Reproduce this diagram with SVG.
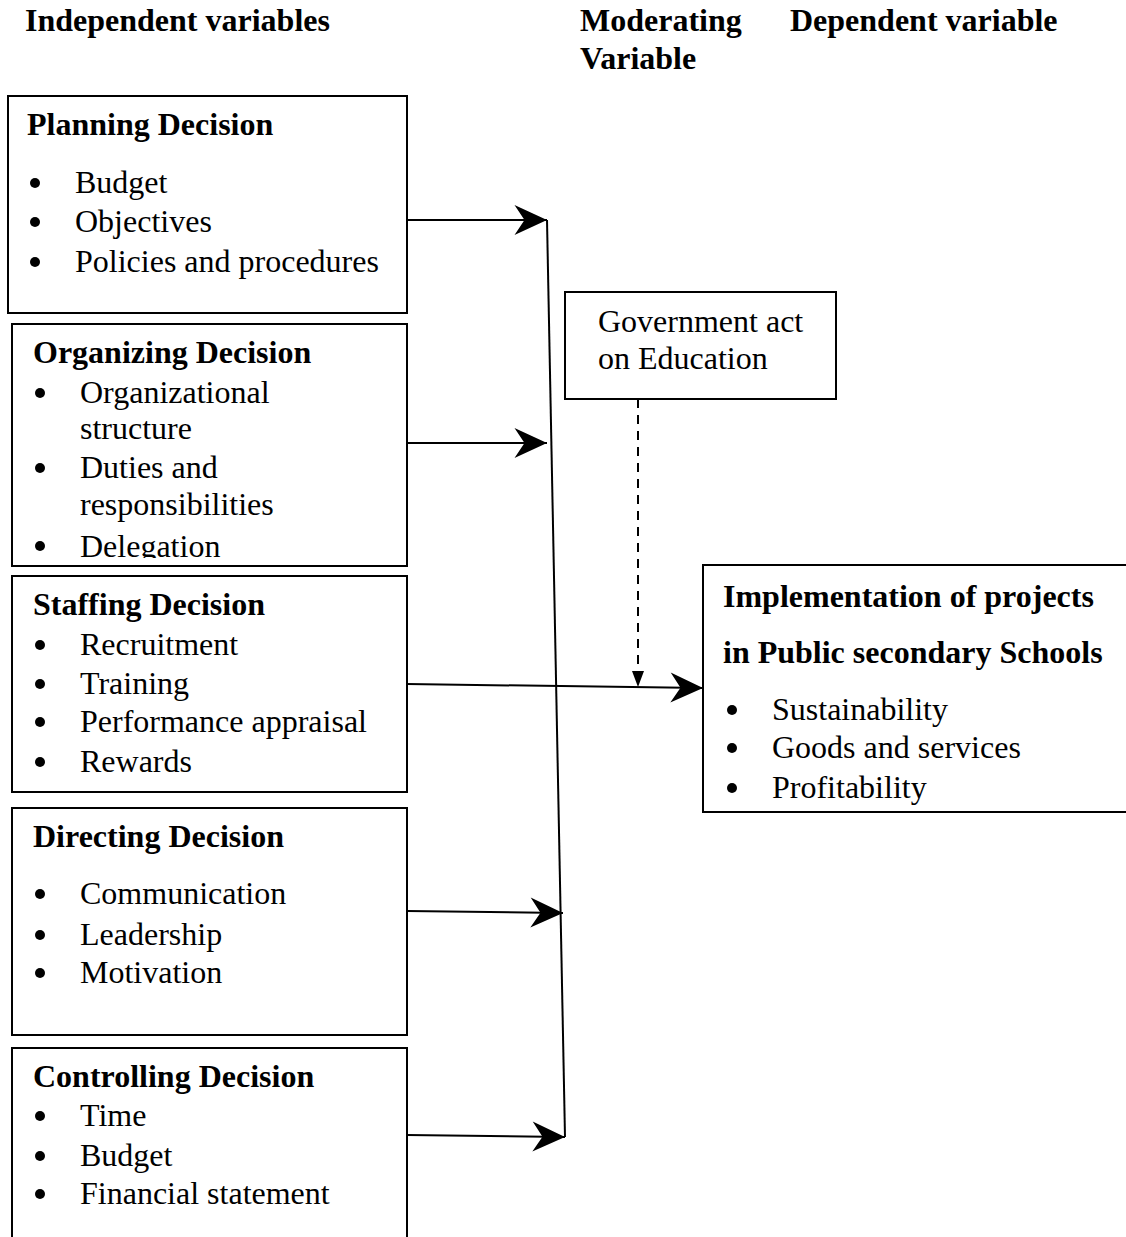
<svg xmlns="http://www.w3.org/2000/svg" width="1126" height="1237" viewBox="0 0 1126 1237">
<style>
text{font-family:"Liberation Serif","Times New Roman",serif;font-size:32px;fill:#000}
.b{font-weight:bold}
.box{fill:#fff;stroke:#000;stroke-width:2}
.conn{fill:none;stroke:#000;stroke-width:2}
.dash{fill:none;stroke:#000;stroke-width:2;stroke-dasharray:9,7}
</style>
<defs>
<marker id="ah" markerUnits="userSpaceOnUse" markerWidth="40" markerHeight="40" viewBox="-30 -15 32 30" refX="0" refY="0" orient="auto">
<path d="M-26,-12 L0,0 L-26,12 L-18,0 Z" fill="#000"/>
</marker>
<marker id="ahs" markerUnits="userSpaceOnUse" markerWidth="20" markerHeight="20" viewBox="-18 -8 20 16" refX="0" refY="0" orient="auto">
<path d="M-16,-6 L0,0 L-16,6 Z" fill="#000"/>
</marker>
<clipPath id="clipOrg"><rect x="12" y="324" width="395" height="234"/></clipPath>
</defs>
<rect width="1126" height="1237" fill="#fff"/>

<g id="headers">
<text class="b" x="25" y="31">Independent variables</text>
<text class="b" x="580" y="31">Moderating</text>
<text class="b" x="580" y="69">Variable</text>
<text class="b" x="790" y="31">Dependent variable</text>
</g>

<g id="planning">
<rect class="box" x="8" y="96" width="399" height="217"/>
<text class="b" x="27" y="135">Planning Decision</text>
<circle cx="35" cy="183" r="5"/><text x="75" y="193">Budget</text>
<circle cx="35" cy="222" r="5"/><text x="75" y="232">Objectives</text>
<circle cx="35" cy="262" r="5"/><text x="75" y="272">Policies and procedures</text>
</g>

<g id="organizing">
<rect class="box" x="12" y="324" width="395" height="242"/>
<g clip-path="url(#clipOrg)">
<text class="b" x="33" y="363">Organizing Decision</text>
<circle cx="40" cy="393" r="5"/><text x="80" y="403">Organizational</text>
<text x="80" y="439">structure</text>
<circle cx="40" cy="468" r="5"/><text x="80" y="478">Duties and</text>
<text x="80" y="515">responsibilities</text>
<circle cx="40" cy="546" r="5"/><text x="80" y="557">Delegation</text>
</g>
</g>

<g id="staffing">
<rect class="box" x="12" y="576" width="395" height="216"/>
<text class="b" x="33" y="615">Staffing Decision</text>
<circle cx="40" cy="645" r="5"/><text x="80" y="655">Recruitment</text>
<circle cx="40" cy="684" r="5"/><text x="80" y="694">Training</text>
<circle cx="40" cy="722" r="5"/><text x="80" y="732">Performance appraisal</text>
<circle cx="40" cy="762" r="5"/><text x="80" y="772">Rewards</text>
</g>

<g id="directing">
<rect class="box" x="12" y="808" width="395" height="227"/>
<text class="b" x="33" y="847">Directing Decision</text>
<circle cx="40" cy="894" r="5"/><text x="80" y="904">Communication</text>
<circle cx="40" cy="935" r="5"/><text x="80" y="945">Leadership</text>
<circle cx="40" cy="973" r="5"/><text x="80" y="983">Motivation</text>
</g>

<g id="controlling">
<rect class="box" x="12" y="1048" width="395" height="220"/>
<text class="b" x="33" y="1087">Controlling Decision</text>
<circle cx="40" cy="1116" r="5"/><text x="80" y="1126">Time</text>
<circle cx="40" cy="1156" r="5"/><text x="80" y="1166">Budget</text>
<circle cx="40" cy="1194" r="5"/><text x="80" y="1204">Financial statement</text>
</g>

<g id="government">
<rect class="box" x="565" y="292" width="271" height="107"/>
<text x="598" y="332">Government act</text>
<text x="598" y="369">on Education</text>
</g>

<g id="dependent">
<rect class="box" x="703" y="565" width="440" height="247"/>
<text class="b" x="723" y="607">Implementation of projects</text>
<text class="b" x="723" y="663">in Public secondary Schools</text>
<circle cx="732" cy="710" r="5"/><text x="772" y="720">Sustainability</text>
<circle cx="732" cy="748" r="5"/><text x="772" y="758">Goods and services</text>
<circle cx="732" cy="788" r="5"/><text x="772" y="798">Profitability</text>
</g>

<g id="connectors">
<line class="conn" x1="547" y1="220" x2="565" y2="1137"/>
<line class="conn" x1="407" y1="220" x2="547" y2="220" marker-end="url(#ah)"/>
<line class="conn" x1="407" y1="443" x2="547" y2="443" marker-end="url(#ah)"/>
<line class="conn" x1="407" y1="911" x2="563" y2="913" marker-end="url(#ah)"/>
<line class="conn" x1="407" y1="1135" x2="565" y2="1137" marker-end="url(#ah)"/>
<line class="conn" x1="407" y1="684" x2="703" y2="688" marker-end="url(#ah)"/>
<line class="dash" x1="638" y1="399" x2="638" y2="687" marker-end="url(#ahs)"/>
</g>
</svg>
